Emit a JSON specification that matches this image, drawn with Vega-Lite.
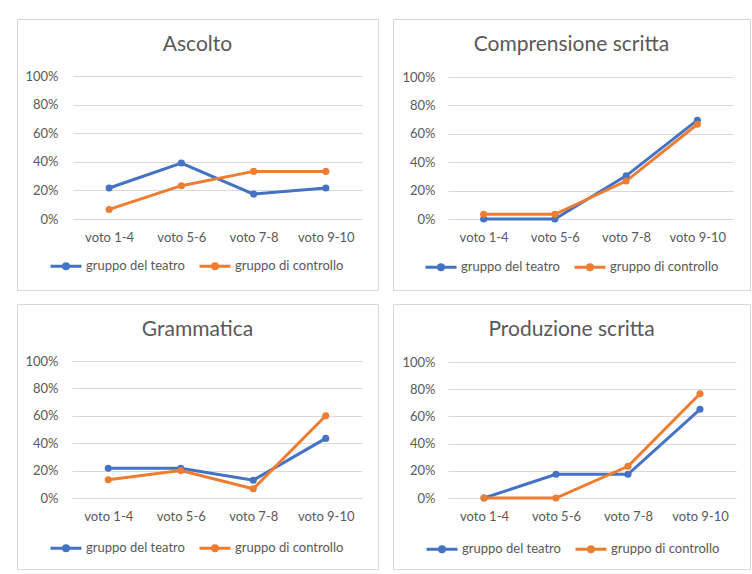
{
  "$schema": "https://vega.github.io/schema/vega-lite/v6.json",
  "padding": {"left": 16, "top": 18, "right": 0, "bottom": 0},
  "background": "white",
  "config": {
    "view": {"stroke": "#D9D9D9", "strokeWidth": 1},
    "font": "Lato",
    "title": {"font": "Lato", "fontSize": 21, "fontWeight": "normal", "color": "#595959", "anchor": "middle", "frame": "group", "baseline": "middle", "offset": -36},
    "axis": {"labelFont": "Lato", "labelFontSize": 13, "labelColor": "#595959", "title": null, "ticks": false, "domain": false},
    "legend": {"labelFont": "Lato", "labelFontSize": 13, "labelColor": "#595959"}
  },
  "datasets": {
    "scores": [
      {"panel": "Ascolto", "gruppo": "gruppo del teatro", "voto": "voto 1-4", "valore": 0.217},
      {"panel": "Ascolto", "gruppo": "gruppo del teatro", "voto": "voto 5-6", "valore": 0.391},
      {"panel": "Ascolto", "gruppo": "gruppo del teatro", "voto": "voto 7-8", "valore": 0.174},
      {"panel": "Ascolto", "gruppo": "gruppo del teatro", "voto": "voto 9-10", "valore": 0.217},
      {"panel": "Ascolto", "gruppo": "gruppo di controllo", "voto": "voto 1-4", "valore": 0.067},
      {"panel": "Ascolto", "gruppo": "gruppo di controllo", "voto": "voto 5-6", "valore": 0.233},
      {"panel": "Ascolto", "gruppo": "gruppo di controllo", "voto": "voto 7-8", "valore": 0.333},
      {"panel": "Ascolto", "gruppo": "gruppo di controllo", "voto": "voto 9-10", "valore": 0.333},
      {"panel": "Comprensione scritta", "gruppo": "gruppo del teatro", "voto": "voto 1-4", "valore": 0.0},
      {"panel": "Comprensione scritta", "gruppo": "gruppo del teatro", "voto": "voto 5-6", "valore": 0.0},
      {"panel": "Comprensione scritta", "gruppo": "gruppo del teatro", "voto": "voto 7-8", "valore": 0.304},
      {"panel": "Comprensione scritta", "gruppo": "gruppo del teatro", "voto": "voto 9-10", "valore": 0.696},
      {"panel": "Comprensione scritta", "gruppo": "gruppo di controllo", "voto": "voto 1-4", "valore": 0.033},
      {"panel": "Comprensione scritta", "gruppo": "gruppo di controllo", "voto": "voto 5-6", "valore": 0.033},
      {"panel": "Comprensione scritta", "gruppo": "gruppo di controllo", "voto": "voto 7-8", "valore": 0.267},
      {"panel": "Comprensione scritta", "gruppo": "gruppo di controllo", "voto": "voto 9-10", "valore": 0.667},
      {"panel": "Grammatica", "gruppo": "gruppo del teatro", "voto": "voto 1-4", "valore": 0.217},
      {"panel": "Grammatica", "gruppo": "gruppo del teatro", "voto": "voto 5-6", "valore": 0.217},
      {"panel": "Grammatica", "gruppo": "gruppo del teatro", "voto": "voto 7-8", "valore": 0.13},
      {"panel": "Grammatica", "gruppo": "gruppo del teatro", "voto": "voto 9-10", "valore": 0.435},
      {"panel": "Grammatica", "gruppo": "gruppo di controllo", "voto": "voto 1-4", "valore": 0.133},
      {"panel": "Grammatica", "gruppo": "gruppo di controllo", "voto": "voto 5-6", "valore": 0.2},
      {"panel": "Grammatica", "gruppo": "gruppo di controllo", "voto": "voto 7-8", "valore": 0.067},
      {"panel": "Grammatica", "gruppo": "gruppo di controllo", "voto": "voto 9-10", "valore": 0.6},
      {"panel": "Produzione scritta", "gruppo": "gruppo del teatro", "voto": "voto 1-4", "valore": 0.0},
      {"panel": "Produzione scritta", "gruppo": "gruppo del teatro", "voto": "voto 5-6", "valore": 0.174},
      {"panel": "Produzione scritta", "gruppo": "gruppo del teatro", "voto": "voto 7-8", "valore": 0.174},
      {"panel": "Produzione scritta", "gruppo": "gruppo del teatro", "voto": "voto 9-10", "valore": 0.652},
      {"panel": "Produzione scritta", "gruppo": "gruppo di controllo", "voto": "voto 1-4", "valore": 0.0},
      {"panel": "Produzione scritta", "gruppo": "gruppo di controllo", "voto": "voto 5-6", "valore": 0.0},
      {"panel": "Produzione scritta", "gruppo": "gruppo di controllo", "voto": "voto 7-8", "valore": 0.233},
      {"panel": "Produzione scritta", "gruppo": "gruppo di controllo", "voto": "voto 9-10", "valore": 0.767}
    ]
  },
  "data": {"name": "scores"},
  "spacing": 12,
  "resolve": {"scale": {"color": "independent", "x": "independent", "y": "independent"}, "legend": {"color": "independent"}},
  "vconcat": [
    {
      "spacing": 13,
      "resolve": {"scale": {"color": "independent", "x": "independent", "y": "independent"}, "legend": {"color": "independent"}},
      "hconcat": [
        {
          "width": 361, "height": 271,
          "title": {"text": "Ascolto"},
          "transform": [{"filter": "datum.panel === 'Ascolto'"}],
          "mark": {"type": "line", "strokeWidth": 3, "point": {"filled": true, "size": 50, "opacity": 1}},
          "encoding": {
            "x": {"field": "voto", "type": "nominal", "sort": ["voto 1-4", "voto 5-6", "voto 7-8", "voto 9-10"], "scale": {"range": [56, 345]}, "axis": {"labelAngle": 0, "grid": false, "offset": -59, "labelPadding": 0}},
            "y": {"field": "valore", "type": "quantitative", "scale": {"domain": [0, 1], "range": [200, 57], "nice": false}, "axis": {"values": [0, 0.2, 0.4, 0.6, 0.8, 1], "format": ".0%", "grid": true, "gridColor": "#D9D9D9", "offset": -44, "labelPadding": 3}},
            "color": {"field": "gruppo", "type": "nominal", "scale": {"domain": ["gruppo del teatro", "gruppo di controllo"], "range": ["#4472C4", "#ED7D31"]},
              "legend": {"orient": "none", "legendX": 32, "legendY": 230, "direction": "horizontal", "title": null, "symbolType": "M-1,0L1,0M0.16,0A0.16,0.16,0,1,1,-0.16,0A0.16,0.16,0,1,1,0.16,0", "symbolSize": 961, "symbolStrokeWidth": 3, "columnPadding": 8, "labelOffset": 3,
                "encode": {"symbols": {"update": {"fill": {"signal": "datum.value === 'gruppo del teatro' ? '#4472C4' : '#ED7D31'"}, "fillOpacity": {"value": 1}}}}}}
          }
        },
        {
          "width": 357, "height": 271,
          "title": {"text": "Comprensione scritta"},
          "transform": [{"filter": "datum.panel === 'Comprensione scritta'"}],
          "mark": {"type": "line", "strokeWidth": 3, "point": {"filled": true, "size": 50, "opacity": 1}},
          "encoding": {
            "x": {"field": "voto", "type": "nominal", "sort": ["voto 1-4", "voto 5-6", "voto 7-8", "voto 9-10"], "scale": {"range": [55, 340]}, "axis": {"labelAngle": 0, "grid": false, "offset": -59, "labelPadding": 0}},
            "y": {"field": "valore", "type": "quantitative", "scale": {"domain": [0, 1], "range": [200, 58], "nice": false}, "axis": {"values": [0, 0.2, 0.4, 0.6, 0.8, 1], "format": ".0%", "grid": true, "gridColor": "#D9D9D9", "offset": -45, "labelPadding": 3}},
            "color": {"field": "gruppo", "type": "nominal", "scale": {"domain": ["gruppo del teatro", "gruppo di controllo"], "range": ["#4472C4", "#ED7D31"]},
              "legend": {"orient": "none", "legendX": 31, "legendY": 231, "direction": "horizontal", "title": null, "symbolType": "M-1,0L1,0M0.16,0A0.16,0.16,0,1,1,-0.16,0A0.16,0.16,0,1,1,0.16,0", "symbolSize": 961, "symbolStrokeWidth": 3, "columnPadding": 8, "labelOffset": 3,
                "encode": {"symbols": {"update": {"fill": {"signal": "datum.value === 'gruppo del teatro' ? '#4472C4' : '#ED7D31'"}, "fillOpacity": {"value": 1}}}}}}
          }
        }
      ]
    },
    {
      "spacing": 13,
      "resolve": {"scale": {"color": "independent", "x": "independent", "y": "independent"}, "legend": {"color": "independent"}},
      "hconcat": [
        {
          "width": 361, "height": 265,
          "title": {"text": "Grammatica"},
          "transform": [{"filter": "datum.panel === 'Grammatica'"}],
          "mark": {"type": "line", "strokeWidth": 3, "point": {"filled": true, "size": 50, "opacity": 1}},
          "encoding": {
            "x": {"field": "voto", "type": "nominal", "sort": ["voto 1-4", "voto 5-6", "voto 7-8", "voto 9-10"], "scale": {"range": [55, 345]}, "axis": {"labelAngle": 0, "grid": false, "offset": -59, "labelPadding": 0}},
            "y": {"field": "valore", "type": "quantitative", "scale": {"domain": [0, 1], "range": [194, 57], "nice": false}, "axis": {"values": [0, 0.2, 0.4, 0.6, 0.8, 1], "format": ".0%", "grid": true, "gridColor": "#D9D9D9", "offset": -44, "labelPadding": 3}},
            "color": {"field": "gruppo", "type": "nominal", "scale": {"domain": ["gruppo del teatro", "gruppo di controllo"], "range": ["#4472C4", "#ED7D31"]},
              "legend": {"orient": "none", "legendX": 32, "legendY": 227, "direction": "horizontal", "title": null, "symbolType": "M-1,0L1,0M0.16,0A0.16,0.16,0,1,1,-0.16,0A0.16,0.16,0,1,1,0.16,0", "symbolSize": 961, "symbolStrokeWidth": 3, "columnPadding": 8, "labelOffset": 3,
                "encode": {"symbols": {"update": {"fill": {"signal": "datum.value === 'gruppo del teatro' ? '#4472C4' : '#ED7D31'"}, "fillOpacity": {"value": 1}}}}}}
          }
        },
        {
          "width": 357, "height": 265,
          "title": {"text": "Produzione scritta"},
          "transform": [{"filter": "datum.panel === 'Produzione scritta'"}],
          "mark": {"type": "line", "strokeWidth": 3, "point": {"filled": true, "size": 50, "opacity": 1}},
          "encoding": {
            "x": {"field": "voto", "type": "nominal", "sort": ["voto 1-4", "voto 5-6", "voto 7-8", "voto 9-10"], "scale": {"range": [55, 343]}, "axis": {"labelAngle": 0, "grid": false, "offset": -59, "labelPadding": 0}},
            "y": {"field": "valore", "type": "quantitative", "scale": {"domain": [0, 1], "range": [194, 58], "nice": false}, "axis": {"values": [0, 0.2, 0.4, 0.6, 0.8, 1], "format": ".0%", "grid": true, "gridColor": "#D9D9D9", "offset": -45, "labelPadding": 3}},
            "color": {"field": "gruppo", "type": "nominal", "scale": {"domain": ["gruppo del teatro", "gruppo di controllo"], "range": ["#4472C4", "#ED7D31"]},
              "legend": {"orient": "none", "legendX": 32, "legendY": 228, "direction": "horizontal", "title": null, "symbolType": "M-1,0L1,0M0.16,0A0.16,0.16,0,1,1,-0.16,0A0.16,0.16,0,1,1,0.16,0", "symbolSize": 961, "symbolStrokeWidth": 3, "columnPadding": 8, "labelOffset": 3,
                "encode": {"symbols": {"update": {"fill": {"signal": "datum.value === 'gruppo del teatro' ? '#4472C4' : '#ED7D31'"}, "fillOpacity": {"value": 1}}}}}}
          }
        }
      ]
    }
  ]
}
